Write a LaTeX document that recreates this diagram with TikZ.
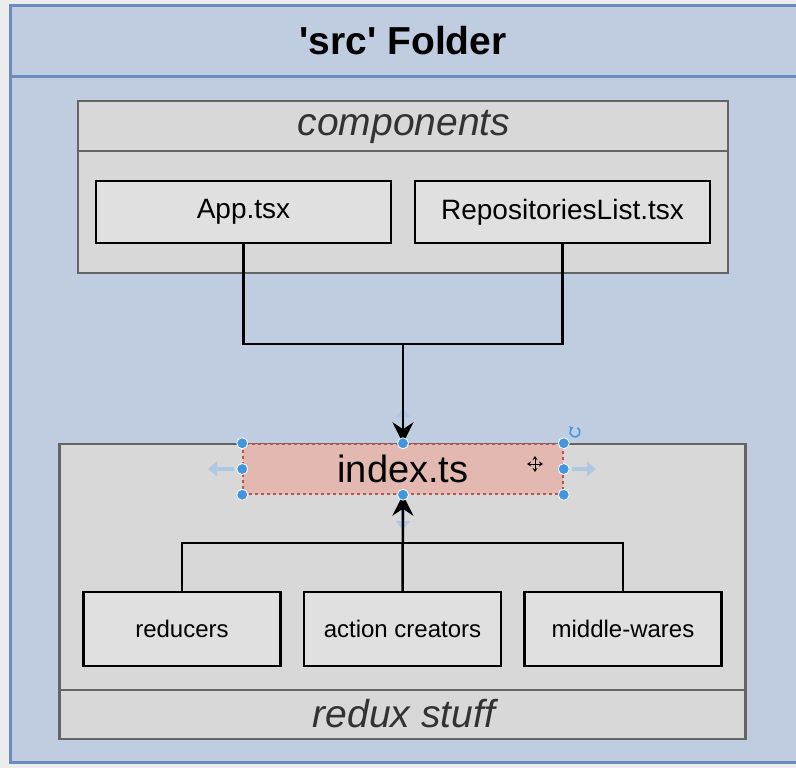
\documentclass[tikz,border=0pt]{standalone}
\usepackage{fontspec}
\setmainfont{Liberation Sans}[Ligatures=TeXOff]
\usetikzlibrary{arrows.meta}

\definecolor{canvas}{RGB}{236,236,236}
\definecolor{folderfill}{RGB}{192,205,224}
\definecolor{folderline}{RGB}{108,140,190}
\definecolor{groupfill}{RGB}{216,216,216}
\definecolor{groupline}{RGB}{100,100,100}
\definecolor{filefill}{RGB}{224,224,224}
\definecolor{entryfill}{RGB}{226,184,176}
\definecolor{entryline}{RGB}{184,84,80}
\definecolor{handle}{RGB}{66,150,224}
\definecolor{hint}{RGB}{172,200,228}
\definecolor{labelgray}{RGB}{50,50,50}

\tikzset{
  group/.style={draw=groupline, fill=groupfill, line width=2.5pt, inner sep=0pt},
  filebox/.style={draw=black, fill=filefill, line width=2.5pt, inner sep=0pt,
                  font=\fontsize{28}{32}\selectfont},
  modbox/.style={draw=black, fill=filefill, line width=2.5pt, inner sep=0pt,
                 font=\fontsize{24}{28}\selectfont},
  grouplabel/.style={font=\fontsize{39}{42}\selectfont\itshape, text=labelgray},
  link/.style={draw=black, line width=2.5pt},
  linkarrow/.style={link, -{Stealth[length=21pt, width=21pt, inset=7pt]}},
  knob/.style={circle, fill=handle, draw=white, line width=0.8pt, minimum size=11pt, inner sep=0pt},
  hintarrow/.style={draw=hint, line width=4pt, -{Triangle[length=9pt, width=14pt]}}
}

\begin{document}
\begin{tikzpicture}[x=1pt, y=-1pt]
  \useasboundingbox (0,0) rectangle (796,768);
  \fill[canvas] (0,0) rectangle (796,768);

  % outer 'src' folder
  \begin{scope}
    \clip (0,0) rectangle (796,768);
    \node[draw=folderline, fill=folderfill, line width=3pt, inner sep=0pt,
          minimum width=800pt, minimum height=756pt] (src) at (410,384) {};
    \draw[folderline, line width=3pt] (10,77) -- (812,77);
  \end{scope}
  \node[font=\fontsize{39}{42}\selectfont\bfseries] (srctitle) at (403,41) {'src' Folder};

  % components group
  \node[group, minimum width=650pt, minimum height=172pt] (comp) at (403,187) {};
  \draw[groupline, line width=2.5pt] (comp.west |- 0,151) -- (comp.east |- 0,151);
  \node[grouplabel] (complabel) at (404,127) {components};

  \node[filebox, minimum width=295pt, minimum height=62pt] (app) at (243.5,212) {App.tsx};
  \node[filebox, minimum width=295pt, minimum height=62pt] (repo) at (562.5,212) {RepositoriesList.tsx};

  % redux group
  \node[group, minimum width=686pt, minimum height=295pt] (redux) at (402.5,591.5) {};
  \draw[groupline, line width=2.5pt] (redux.west |- 0,690) -- (redux.east |- 0,690);
  \node[grouplabel] (reduxlabel) at (404,714) {redux stuff};

  \node[modbox, minimum width=197pt, minimum height=74pt] (red) at (182,629) {reducers};
  \node[modbox, minimum width=197pt, minimum height=74pt] (act) at (402.5,629) {action creators};
  \node[modbox, minimum width=197pt, minimum height=74pt] (mid) at (623,629) {middle-wares};

  % hover hints around the selected entry
  \draw[hintarrow] (234,469) -- (208,469);
  \draw[hintarrow] (572,469) -- (596,469);
  \draw[hintarrow] (403,434) -- (403,408);
  \draw[hintarrow] (403,504) -- (403,530);

  % entry point
  \node[draw=entryline, dashed, fill=entryfill, line width=1.5pt, inner sep=0pt,
        minimum width=320pt, minimum height=50pt,
        font=\fontsize{38}{42}\selectfont] (index) at (403,469) {index.ts};

  % connectors
  \coordinate (jtop) at (403,344);
  \coordinate (jbot) at (402.5,543);
  \draw[link] (app.south) |- (jtop) -| (repo.south);
  \draw[linkarrow] (jtop) -- (index.north);
  \draw[link] (red.north) |- (jbot) -| (mid.north);
  \draw[linkarrow] (act.north) -- (index.south);

  % selection handles
  \foreach \a [count=\i] in {north west, north, north east, west, east, south west, south, south east}
    \node[knob] (k\i) at (index.\a) {};

  % rotate handle
  \coordinate (rot) at (575,432);
  \draw[handle, line width=1.6pt, -{Stealth[length=4pt, width=5pt]}]
    ([shift={(60:5pt)}]rot) arc[start angle=60, end angle=-250, radius=5pt];

  % move cursor
  \coordinate (mv) at (535,464);
  \draw[black, line width=1pt, {Stealth[length=4pt, width=5pt]}-{Stealth[length=4pt, width=5pt]}]
    ([xshift=-8pt]mv) -- ([xshift=8pt]mv);
  \draw[black, line width=1pt, {Stealth[length=4pt, width=5pt]}-{Stealth[length=4pt, width=5pt]}]
    ([yshift=-8pt]mv) -- ([yshift=8pt]mv);
\end{tikzpicture}
\end{document}
